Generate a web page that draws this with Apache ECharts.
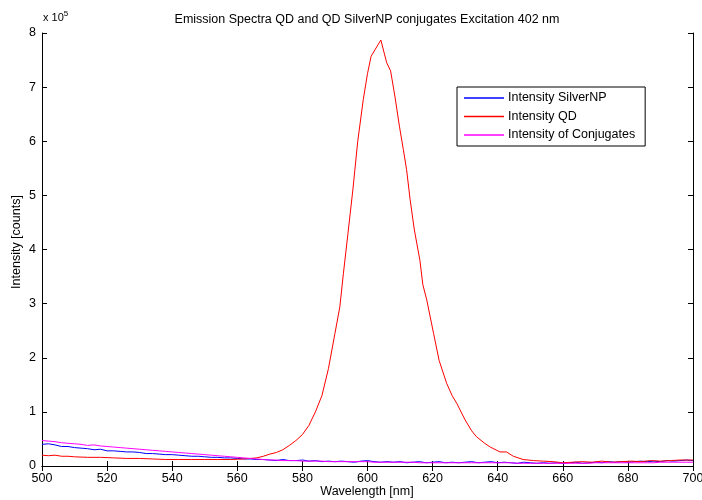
<!DOCTYPE html>
<html>
<head>
<meta charset="utf-8">
<script src="https://cdn.jsdelivr.net/npm/echarts@6/dist/echarts.min.js"></script>
<style>html,body{margin:0;padding:0;background:#fff}#c{width:702px;height:500px}</style>
</head>
<body>
<div id="c"></div>
<script>
// Intensity values are in units of 10^5 counts
var xTicks = [500, 520, 540, 560, 580, 600, 620, 640, 660, 680, 700];
var yTicks = [0, 1, 2, 3, 4, 5, 6, 7, 8];

var gridWavelengths = [500,502,504,506,508,510,512,514,516,518,520,522,524,526,528,530,532,534,536,538,540,542,544,546,548,550,552,554,556,558,560,562,564,566,568,570,572,574,576,578,580,582,584,586,588,590,592,594,596,598,600,602,604,606,608,610,612,614,616,618,620,622,624,626,628,630,632,634,636,638,640,642,644,646,648,650,652,654,656,658,660,662,664,666,668,670,672,674,676,678,680,682,684,686,688,690,692,694,696,698,700];

var silverNP = [0.40,0.41,0.39,0.36,0.36,0.34,0.33,0.32,0.30,0.31,0.28,0.28,0.27,0.26,0.26,0.25,0.23,0.23,0.22,0.21,0.21,0.20,0.19,0.18,0.18,0.17,0.16,0.16,0.15,0.15,0.14,0.13,0.13,0.12,0.12,0.11,0.10,0.12,0.10,0.10,0.11,0.09,0.10,0.08,0.09,0.08,0.09,0.08,0.07,0.09,0.10,0.08,0.07,0.08,0.07,0.08,0.06,0.07,0.08,0.06,0.07,0.08,0.06,0.07,0.06,0.07,0.08,0.06,0.07,0.08,0.06,0.07,0.06,0.05,0.07,0.06,0.05,0.06,0.05,0.06,0.05,0.06,0.07,0.05,0.06,0.07,0.06,0.08,0.07,0.08,0.07,0.08,0.09,0.08,0.09,0.08,0.10,0.09,0.10,0.11,0.10];

var conjugates = [0.47,0.46,0.45,0.43,0.42,0.41,0.40,0.38,0.39,0.37,0.36,0.35,0.34,0.33,0.32,0.31,0.30,0.29,0.28,0.27,0.26,0.25,0.24,0.23,0.22,0.21,0.20,0.19,0.18,0.17,0.16,0.15,0.14,0.13,0.12,0.11,0.11,0.10,0.10,0.10,0.09,0.09,0.09,0.09,0.08,0.08,0.08,0.08,0.08,0.08,0.08,0.07,0.07,0.07,0.07,0.07,0.07,0.07,0.06,0.06,0.06,0.06,0.06,0.06,0.06,0.06,0.06,0.06,0.06,0.06,0.06,0.06,0.06,0.05,0.05,0.05,0.05,0.05,0.05,0.05,0.05,0.05,0.05,0.05,0.05,0.06,0.06,0.06,0.06,0.06,0.06,0.06,0.06,0.06,0.06,0.07,0.07,0.07,0.07,0.07,0.07];

var qdWavelengths = [500,502,504,506,508,510,514,518,522,526,530,534,538,542,546,550,554,558,562,566,568,570,572,574,576,578,580,582,584,586,588,590,591.5,592.6,594,595.5,597,598.7,600,601.1,604.1,605.9,607.1,608.5,609.8,611,612,613.1,614.4,616.1,617,618.2,620.3,622,624.3,626,627.4,630,632,633.5,636,637.7,640.7,642.7,644.8,647.8,651,654,657,660,663,666,669,672,675,678,681,684,687,690,693,696,700];
var qd = [0.20,0.19,0.20,0.18,0.18,0.17,0.16,0.16,0.15,0.14,0.14,0.13,0.12,0.12,0.12,0.12,0.12,0.12,0.13,0.15,0.18,0.22,0.25,0.30,0.38,0.47,0.58,0.75,1.00,1.30,1.80,2.45,2.94,3.56,4.30,5.10,6.00,6.77,7.25,7.57,7.87,7.45,7.30,6.80,6.28,5.85,5.48,4.92,4.36,3.80,3.35,3.07,2.45,1.95,1.53,1.30,1.16,0.85,0.65,0.54,0.42,0.35,0.26,0.26,0.18,0.12,0.10,0.09,0.08,0.06,0.07,0.08,0.07,0.09,0.07,0.08,0.09,0.08,0.10,0.09,0.10,0.11,0.11];

function pairs(xs, ys){ return xs.map(function(x,i){ return [x, ys[i]]; }); }

var FONT = '"Liberation Sans", Arial, Helvetica, sans-serif';
var FS = 12.5;
var axisLine = {show:true, lineStyle:{color:'#000', width:1}};
var tickIn = {show:true, inside:true, length:5, lineStyle:{color:'#000', width:1}};

var chart = echarts.init(document.getElementById('c'), null, {renderer:'canvas', width:702, height:500});
chart.setOption({
  animation:false,
  backgroundColor:'#fff',
  textStyle:{fontFamily:FONT},
  graphic:[{
    type:'text', x:367, y:20,
    style:{
      text:'Emission Spectra QD and QD SilverNP conjugates Excitation 402 nm',
      fill:'#000', font:FS + 'px ' + FONT, align:'center', verticalAlign:'middle'
    }
  },{
    type:'text', x:17, y:242, rotation:Math.PI/2,
    style:{
      text:'Intensity [counts]', fill:'#000', font:FS + 'px ' + FONT, align:'center', verticalAlign:'middle'
    }
  },{
    type:'text', x:367, y:492,
    style:{
      text:'Wavelength [nm]', fill:'#000', font:FS + 'px ' + FONT, align:'center', verticalAlign:'middle'
    }
  },{
    type:'text', left:43, top:10,
    style:{
      text:'x 10{s|5}', fill:'#000', font:'11px ' + FONT,
      rich:{s:{fontSize:8, verticalAlign:'top', padding:[0,0,8,0], fill:'#000'}}
    }
  }],
  grid:{left:42, right:9, top:33, bottom:34, containLabel:false, outerBoundsMode:'none', show:false},
  legend:{
    orient:'vertical', left:457, top:87,
    data:['Intensity SilverNP','Intensity QD','Intensity of Conjugates'],
    backgroundColor:'#fff', borderColor:'#000', borderWidth:1, borderRadius:0,
    padding:[4,10,4,7], itemGap:4.5, itemWidth:40, itemHeight:1.5, icon:'rect',
    textStyle:{fontSize:FS, color:'#000', fontFamily:FONT, lineHeight:14, padding:[0,0,0,-1]},
    selectedMode:false
  },
  xAxis:[{
    type:'value', min:500, max:700, interval:20,
    axisLine:axisLine, axisTick:tickIn,
    axisLabel:{color:'#000', fontSize:FS, margin:6, fontFamily:FONT,
      formatter:function(v){ return xTicks.indexOf(v) >= 0 ? String(v) : ''; }},
    splitLine:{show:false}
  },{
    type:'value', position:'top', min:500, max:700, interval:20,
    axisLine:axisLine, axisTick:tickIn, axisLabel:{show:false}, splitLine:{show:false}
  }],
  yAxis:[{
    type:'value', min:0, max:8, interval:1,
    axisLine:axisLine, axisTick:tickIn,
    axisLabel:{color:'#000', fontSize:FS, margin:6, fontFamily:FONT,
      formatter:function(v){ return yTicks.indexOf(v) >= 0 ? String(v) : ''; }},
    splitLine:{show:false}
  },{
    type:'value', position:'right', min:0, max:8, interval:1,
    axisLine:axisLine, axisTick:tickIn, axisLabel:{show:false}, splitLine:{show:false}
  }],
  series:[{
    name:'Intensity SilverNP', type:'line', data:pairs(gridWavelengths, silverNP),
    showSymbol:false, symbol:'none', lineStyle:{color:'#0000ff', width:1}, itemStyle:{color:'#0000ff'}, z:2
  },{
    name:'Intensity QD', type:'line', data:pairs(qdWavelengths, qd),
    showSymbol:false, symbol:'none', lineStyle:{color:'#ff0000', width:1}, itemStyle:{color:'#ff0000'}, z:3
  },{
    name:'Intensity of Conjugates', type:'line', data:pairs(gridWavelengths, conjugates),
    showSymbol:false, symbol:'none', lineStyle:{color:'#ff00ff', width:1}, itemStyle:{color:'#ff00ff'}, z:4
  }]
});
</script>
</body>
</html>
